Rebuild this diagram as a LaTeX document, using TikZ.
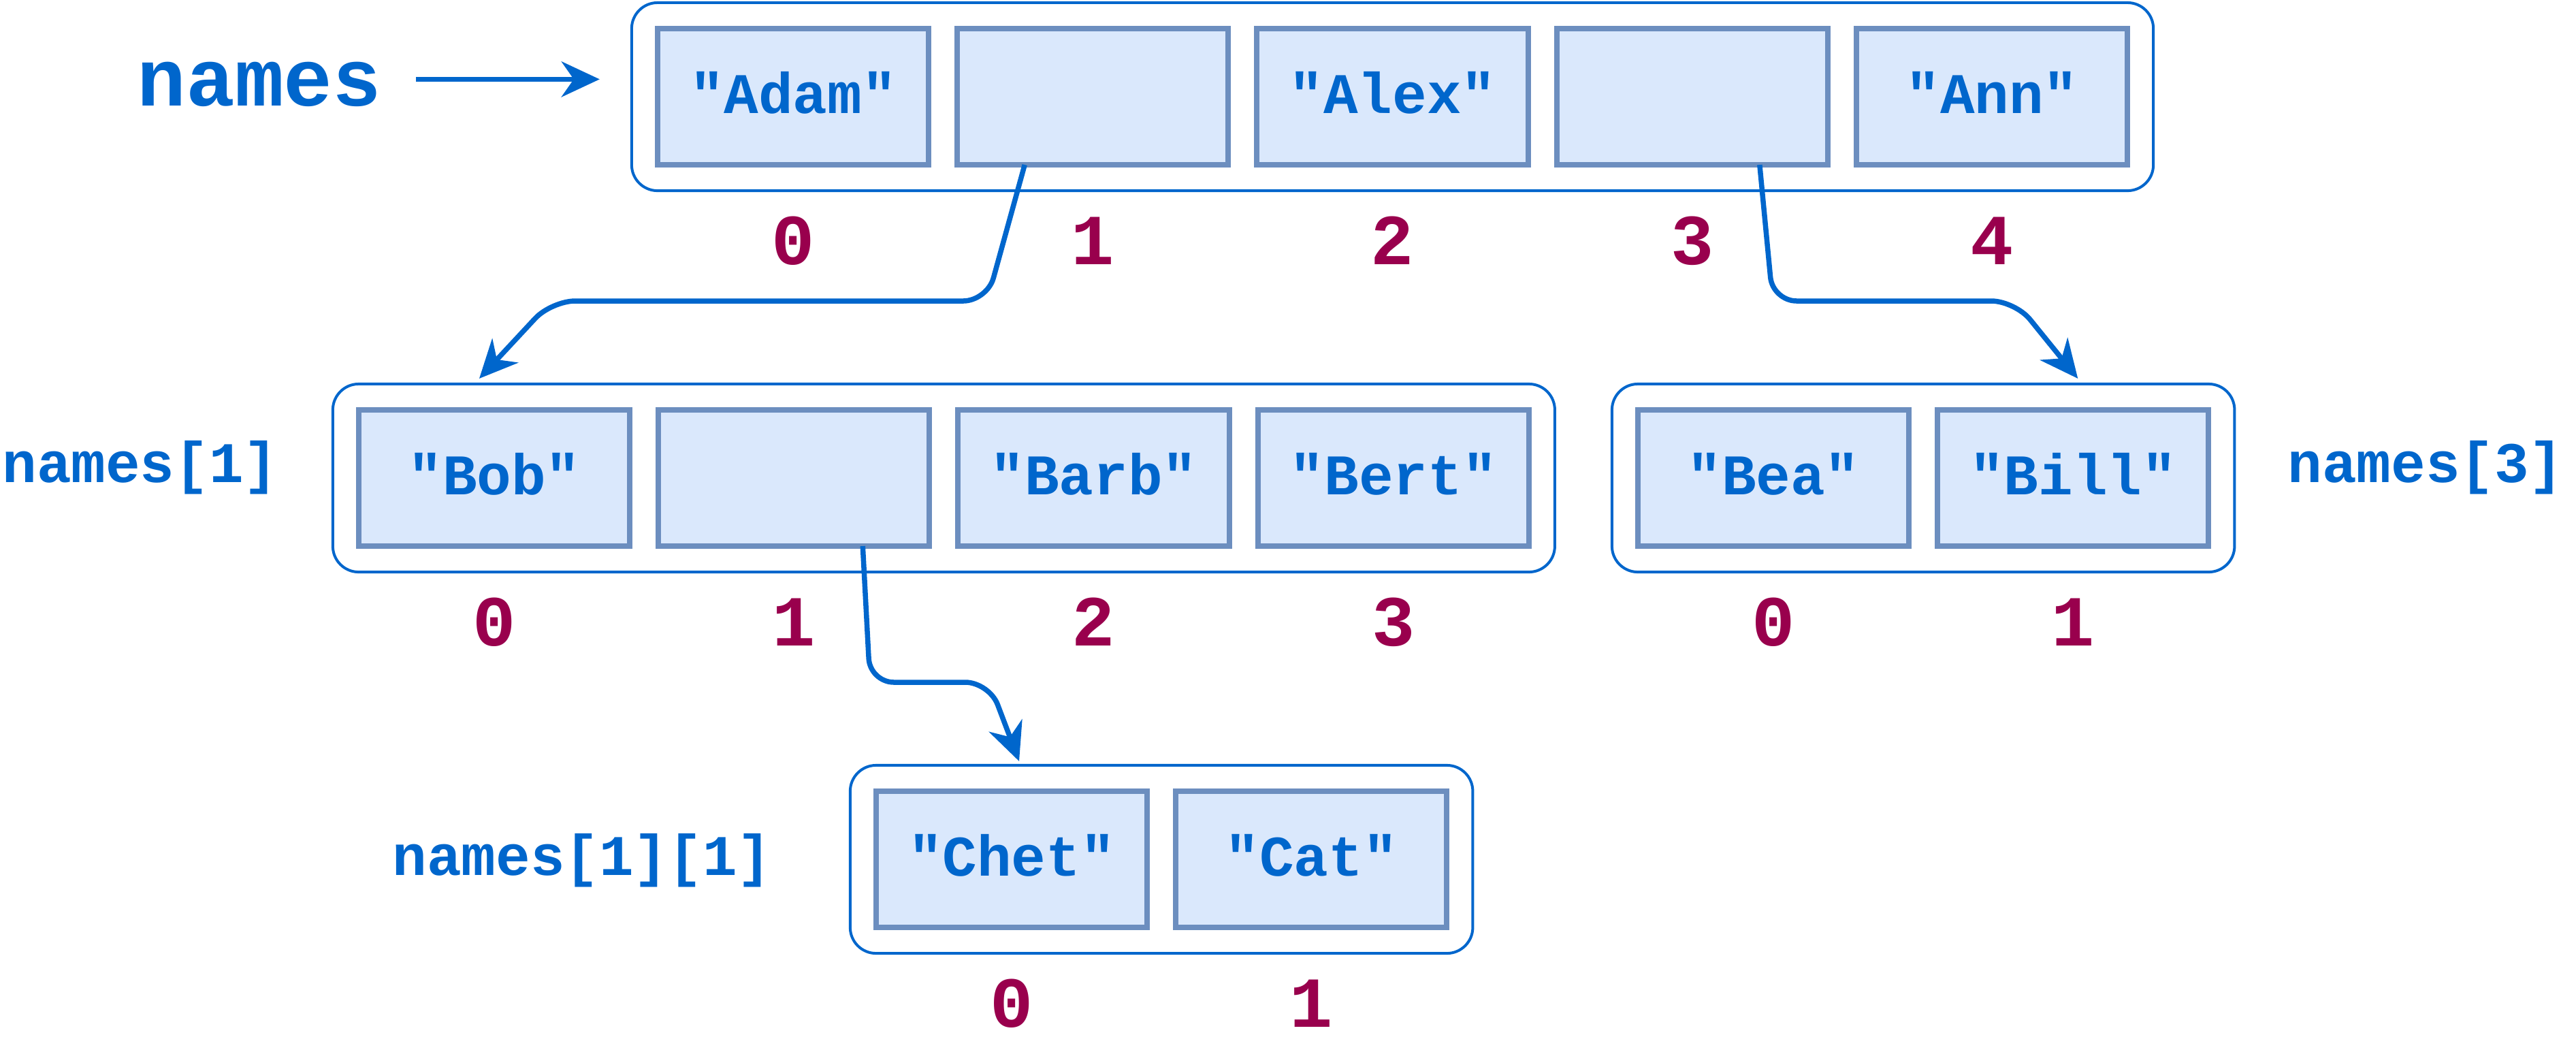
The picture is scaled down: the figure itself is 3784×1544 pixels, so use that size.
\documentclass[tikz,border=0pt]{standalone}
\usepackage{fontspec}
\setmonofont{Liberation Mono}
\usepackage{xcolor}
\usetikzlibrary{positioning,fit,arrows.meta}

\definecolor{ptrblue}{HTML}{0066CC}
\definecolor{idxred}{HTML}{99004D}
\definecolor{cellfill}{HTML}{DAE8FC}
\definecolor{cellline}{HTML}{6C8EBF}

\begin{document}
\begin{tikzpicture}[x=0.01cm, y=-0.01cm,
    node distance=0.42cm,
    cell/.style={draw=cellline, fill=cellfill, line width=0.08cm,
        minimum width=3.98cm, minimum height=2cm, inner sep=0pt, outer sep=0pt,
        text height=0.48cm, text depth=0pt, text=ptrblue,
        font=\ttfamily\bfseries\fontsize{24}{24}\selectfont},
    array/.style={draw=ptrblue, line width=0.04cm, rounded corners=0.38cm,
        inner sep=0.38cm},
    index/.style={text=idxred, inner sep=0pt, text height=0.65cm, text depth=0pt,
        font=\ttfamily\bfseries\fontsize{30}{30}\selectfont},
    lbl/.style={text=ptrblue, anchor=base, inner sep=0pt,
        font=\ttfamily\bfseries\fontsize{24}{24}\selectfont},
    ptr/.style={draw=ptrblue, line width=0.075cm, rounded corners=0.35cm,
        -{Stealth[length=0.56cm, width=0.52cm, inset=0.18cm]}}]
\useasboundingbox (0,0) rectangle (3784,1544);

% names
\node[cell] (t0) at (1165,142) {"Adam"};
\node[cell, right=of t0] (t1) {};
\node[cell, right=of t1] (t2) {"Alex"};
\node[cell, right=of t2] (t3) {};
\node[cell, right=of t3] (t4) {"Ann"};
\node[array, fit=(t0)(t4)] (top) {};
\node[index, below=0.81cm of t0] (t0i) {0};
\node[index, below=0.81cm of t1] (t1i) {1};
\node[index, below=0.81cm of t2] (t2i) {2};
\node[index, below=0.81cm of t3] (t3i) {3};
\node[index, below=0.81cm of t4] (t4i) {4};
\node[lbl, font=\ttfamily\bfseries\fontsize{34}{34}\selectfont] (lnames) at (381,155) {names};

% names[1]
\node[cell] (m0) at (726,702) {"Bob"};
\node[cell, right=of m0] (m1) {};
\node[cell, right=of m1] (m2) {"Barb"};
\node[cell, right=of m2] (m3) {"Bert"};
\node[array, fit=(m0)(m3)] (mid) {};
\node[index, below=0.81cm of m0] (m0i) {0};
\node[index, below=0.81cm of m1] (m1i) {1};
\node[index, below=0.81cm of m2] (m2i) {2};
\node[index, below=0.81cm of m3] (m3i) {3};
\node[lbl] (lmid) at (206,708) {names[1]};

% names[3]
\node[cell] (r0) at (2605,702) {"Bea"};
\node[cell, right=of r0] (r1) {"Bill"};
\node[array, fit=(r0)(r1)] (rgt) {};
\node[index, below=0.81cm of r0] (r0i) {0};
\node[index, below=0.81cm of r1] (r1i) {1};
\node[lbl] (lrgt) at (3563,708) {names[3]};

% names[1][1]
\node[cell] (b0) at (1486,1262) {"Chet"};
\node[cell, right=of b0] (b1) {"Cat"};
\node[array, fit=(b0)(b1)] (bot) {};
\node[index, below=0.81cm of b0] (b0i) {0};
\node[index, below=0.81cm of b1] (b1i) {1};
\node[lbl] (lbot) at (855,1285) {names[1][1]};

% pointers
\draw[ptr] ([xshift=0.5cm, yshift=0.07cm]lnames.east)
    -- ([xshift=-0.45cm, yshift=0.07cm]lnames.east -| top.west);
\draw[ptr] ([xshift=-1cm]t1.south) -- (1450,442) -- (810,442)
    -- ([xshift=2.17cm, yshift=0.06cm]mid.north west);
\draw[ptr] ([xshift=0.99cm]t3.south) -- (2604,442) -- (2960,442)
    -- ([xshift=6.86cm, yshift=0.06cm]rgt.north west);
\draw[ptr] ([xshift=1.01cm]m1.south) -- (1278,1002) -- (1453,1002)
    -- ([xshift=2.5cm, yshift=0.04cm]bot.north west);
\end{tikzpicture}
\end{document}
